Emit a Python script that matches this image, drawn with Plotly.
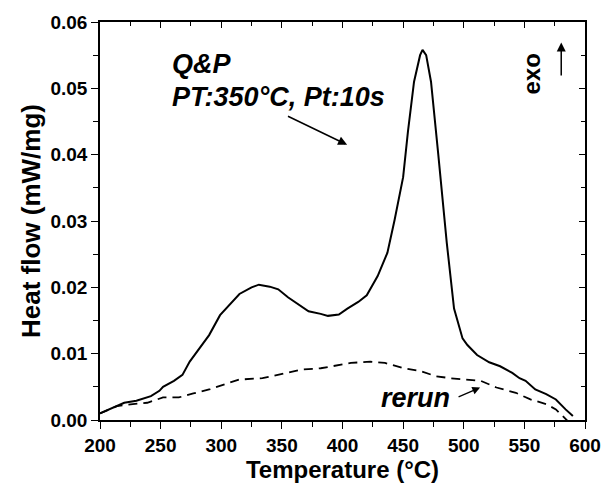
import plotly.graph_objects as go

# Solid curve (Q&P PT:350°C, Pt:10s)
qp_temp = [200, 214, 220, 230, 242, 249, 252, 261, 268, 274, 280, 290, 299, 309, 315, 325, 331, 340, 347,
           355, 363, 372, 382, 388, 397, 404, 413, 420, 429, 437, 443, 450, 454, 459, 464, 466, 469, 473,
           479, 486, 492, 499, 503, 511, 521, 530, 540, 546, 551, 559, 568, 576, 584, 590]
qp_heat = [0.0010, 0.0021, 0.0026, 0.0029, 0.0036, 0.0044, 0.0050, 0.0059, 0.0068, 0.0088, 0.0103, 0.0128,
           0.0158, 0.0178, 0.0190, 0.0200, 0.0204, 0.0201, 0.0197, 0.0185, 0.0175, 0.0164, 0.0160, 0.0157,
           0.0159, 0.0168, 0.0178, 0.0188, 0.0217, 0.0252, 0.0302, 0.0366, 0.0435, 0.0510, 0.0550, 0.0558,
           0.0550, 0.0510, 0.0400, 0.0267, 0.0168, 0.0123, 0.0113, 0.0098, 0.0087, 0.0081, 0.0071, 0.0063,
           0.0059, 0.0046, 0.0039, 0.0031, 0.0016, 0.0006]

# Dashed curve (rerun)
rerun_temp = [200, 214, 227, 239, 252, 265, 277, 290, 303, 315, 334, 350, 366, 382, 394, 407, 423, 435,
              451, 464, 477, 489, 502, 514, 527, 543, 555, 568, 576, 583, 586]
rerun_heat = [0.0010, 0.0021, 0.0024, 0.0026, 0.0034, 0.0034, 0.0040, 0.0046, 0.0054, 0.0061, 0.0063,
              0.0069, 0.0076, 0.0078, 0.0082, 0.0086, 0.0088, 0.0086, 0.0078, 0.0074, 0.0066, 0.0063,
              0.0061, 0.0059, 0.0049, 0.0041, 0.0031, 0.0024, 0.0016, 0.0004, -0.0002]

x_ticks = [200, 250, 300, 350, 400, 450, 500, 550, 600]
y_ticks = [0.00, 0.01, 0.02, 0.03, 0.04, 0.05, 0.06]
y_tick_labels = ["0.00", "0.01", "0.02", "0.03", "0.04", "0.05", "0.06"]

FONT = "Liberation Sans, Arial, sans-serif"

fig = go.Figure()
fig.add_trace(go.Scatter(x=qp_temp, y=qp_heat, mode="lines",
                         line=dict(color="black", width=2), showlegend=False))
fig.add_trace(go.Scatter(x=rerun_temp, y=rerun_heat, mode="lines",
                         line=dict(color="black", width=1.8, dash="9px,6px"), showlegend=False))
# invisible trace for mirrored axes
fig.add_trace(go.Scatter(x=[200], y=[0], xaxis="x2", yaxis="y2", mode="markers",
                         marker=dict(opacity=0), showlegend=False, hoverinfo="skip"))

common_tickfont = dict(family=FONT, size=19, color="black")

fig.update_layout(
    width=613, height=489,
    margin=dict(l=100, r=18, t=17, b=69),
    paper_bgcolor="white", plot_bgcolor="white",
    xaxis=dict(range=[200, 600], tickvals=x_ticks, ticktext=["<b>%d</b>" % v for v in x_ticks],
               ticks="outside", ticklen=7, tickwidth=1.3, tickcolor="black",
               minor=dict(dtick=25, tick0=200, ticks="outside", ticklen=5, tickwidth=1.2, tickcolor="black"),
               showline=True, linecolor="black", linewidth=1.5, showgrid=False, zeroline=False,
               tickfont=common_tickfont,
               title=dict(text="<b>Temperature (°C)</b>", font=dict(family=FONT, size=24, color="black"),
                          standoff=4)),
    yaxis=dict(range=[0, 0.06], tickvals=y_ticks, ticktext=["<b>%s</b>" % t for t in y_tick_labels],
               ticks="outside", ticklen=7, tickwidth=1.3, tickcolor="black",
               minor=dict(dtick=0.005, tick0=0, ticks="outside", ticklen=5, tickwidth=1.2, tickcolor="black"),
               showline=True, linecolor="black", linewidth=1.5, showgrid=False, zeroline=False,
               tickfont=common_tickfont,
               title=dict(text="<b>Heat flow (mW/mg)</b>", font=dict(family=FONT, size=26, color="black"),
                          standoff=2)),
    xaxis2=dict(range=[200, 600], overlaying="x", side="top", tickvals=x_ticks, showticklabels=False,
                ticks="inside", ticklen=6, tickwidth=1.2, tickcolor="black",
                minor=dict(dtick=25, tick0=200, ticks="inside", ticklen=4, tickwidth=1.1, tickcolor="black"),
                showline=True, linecolor="black", linewidth=1.5, showgrid=False, zeroline=False),
    yaxis2=dict(range=[0, 0.06], overlaying="y", side="right", tickvals=y_ticks, showticklabels=False,
                ticks="inside", ticklen=6, tickwidth=1.2, tickcolor="black",
                minor=dict(dtick=0.005, tick0=0, ticks="inside", ticklen=4, tickwidth=1.1, tickcolor="black"),
                showline=True, linecolor="black", linewidth=1.5, showgrid=False, zeroline=False),
)

tfont = dict(family=FONT, size=27, color="black")
fig.add_annotation(x=258, y=0.0537, text="<b><i>Q&P</i></b>", showarrow=False,
                   xanchor="left", yanchor="middle", font=tfont)
fig.add_annotation(x=258, y=0.0487, text="<b><i>PT:350°C, Pt:10s</i></b>", showarrow=False,
                   xanchor="left", yanchor="middle", font=tfont)
fig.add_annotation(x=403.8, y=0.0415, ax=353.8, ay=0.0459, axref="x", ayref="y",
                   text="", showarrow=True, arrowhead=2, arrowsize=1.2, arrowwidth=1.5, arrowcolor="black")
fig.add_annotation(x=460, y=0.0033, text="<b><i>rerun</i></b>", showarrow=False,
                   xanchor="center", yanchor="middle", font=tfont)
fig.add_annotation(x=513.5, y=0.0049, ax=494.5, ay=0.0034, axref="x", ayref="y",
                   text="", showarrow=True, arrowhead=2, arrowsize=1.2, arrowwidth=1.3, arrowcolor="black")
fig.add_annotation(x=555.6, y=0.0521, text="<b>exo</b>", showarrow=False, textangle=-90,
                   xanchor="center", yanchor="middle", font=dict(family=FONT, size=24, color="black"))
fig.add_annotation(x=580.4, y=0.0569, ax=580.4, ay=0.0517, axref="x", ayref="y",
                   text="", showarrow=True, arrowhead=2, arrowsize=1.2, arrowwidth=1.5, arrowcolor="black")

fig.write_html("out.html")
